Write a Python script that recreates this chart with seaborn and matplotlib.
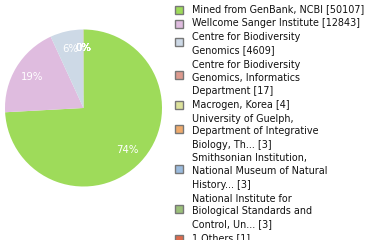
import math
import matplotlib
matplotlib.use("Agg")
import matplotlib.pyplot as plt
import seaborn as sns
from matplotlib.patches import Rectangle

sns.set_theme(style="white")
plt.rcParams['font.family'] = ['DejaVu Sans']

categories = [
    "Mined from GenBank, NCBI",
    "Wellcome Sanger Institute",
    "Centre for Biodiversity\nGenomics",
    "Centre for Biodiversity\nGenomics, Informatics\nDepartment",
    "Macrogen, Korea",
    "University of Guelph,\nDepartment of Integrative\nBiology, Th...",
    "Smithsonian Institution,\nNational Museum of Natural\nHistory...",
    "National Institute for\nBiological Standards and\nControl, Un...",
    "1 Others",
]
counts = [50107, 12843, 4609, 17, 4, 3, 3, 3, 1]
colors = ["#9edb5a", "#dfbcdf", "#cdd9e6", "#dd9a8e", "#dde29c",
          "#eeaa6c", "#9bbbdd", "#9bc07a", "#dd6a4c"]

W, H = 380, 240
fig = plt.figure(figsize=(W / 100, H / 100), dpi=100)
cx, cy, r = 83.5, 108, 78.5
ax = fig.add_axes([(cx - r) / W, (H - cy - r) / H, 2 * r / W, 2 * r / H])

ax.pie(counts, colors=colors, startangle=90, counterclock=False,
       autopct=lambda p: f"{int(math.floor(p))}%", pctdistance=0.77,
       wedgeprops=dict(linewidth=0),
       textprops=dict(color="white", fontsize=7.3))
ax.set_xlim(-1, 1)
ax.set_ylim(-1, 1)
ax.set_aspect("equal")
ax.axis("off")

# legend drawn manually
LH = 13.0
y = 9.5
for lab, cnt, col in zip(categories, counts, colors):
    lines = lab.split("\n")
    lines[-1] = lines[-1] + f" [{cnt}]"
    n = len(lines)
    for i, ln in enumerate(lines):
        fig.text(192 / W, 1 - (y + i * LH) / H, ln, fontsize=6.9,
                 color="#111111", va="center", ha="left")
    mid = y + (n - 1) * LH / 2 - (2.5 if n > 1 else 0)
    fig.patches.append(Rectangle((175 / W, 1 - (mid + 4) / H), 8 / W, 8 / H,
                                 transform=fig.transFigure, facecolor=col,
                                 edgecolor="#777777", linewidth=1))
    y += n * LH + 1.0

fig.savefig("out.png", dpi=100)
